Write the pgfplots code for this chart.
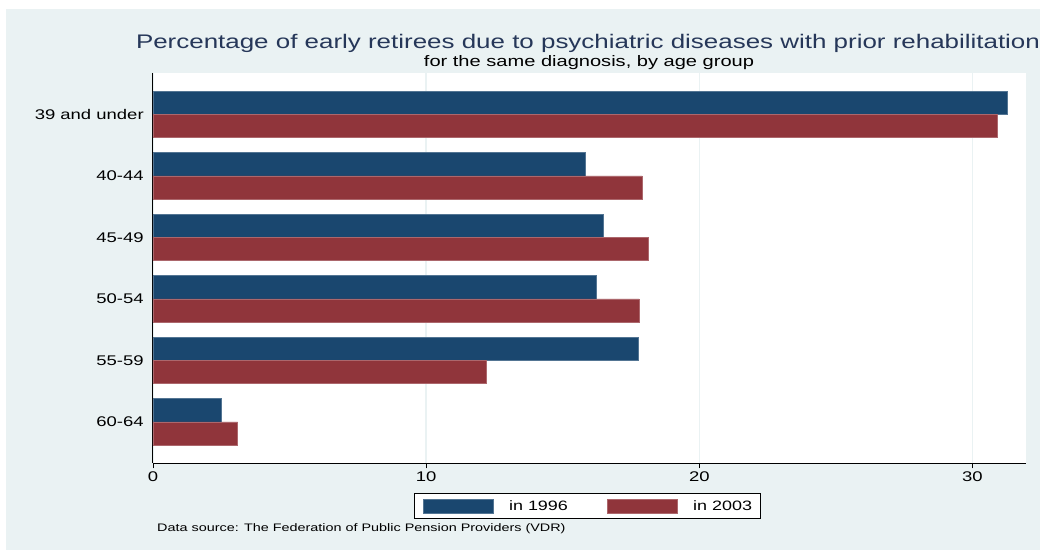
\documentclass[border=0pt]{standalone}
\usepackage{fontspec}
\setmainfont{Liberation Sans}[FakeStretch=1.32]
\usepackage{pgfplots}
\usepackage{pgfplotstable}
\pgfplotsset{compat=1.18}
\definecolor{bgcol}{RGB}{234,242,243}
\definecolor{navy}{RGB}{26,71,111}
\definecolor{maroon}{RGB}{144,53,59}
\definecolor{titlecol}{RGB}{38,55,89}
\pgfplotstableread{
cat a b
0 31.27 30.90
1 15.82 17.91
2 16.48 18.15
3 16.22 17.80
4 17.77 12.21
5 2.50 3.10
}\datatable
\begin{document}
\begin{tikzpicture}[x=1bp,y=1bp]
\fill[white] (0,0) rectangle (1040,550);
\fill[bgcol] (6,0) rectangle (1040,540.5);
\begin{axis}[
  at={(152.9bp,86.7bp)}, anchor=south west,
  scale only axis, width=873.1bp, height=390.3bp,
  xmin=0, xmax=31.96, ymin=-0.673, ymax=5.673,
  y dir=reverse,
  axis background/.style={fill=white},
  axis x line*=bottom, axis y line*=left,
  axis line style={-, black, line width=0.9bp},
  xtick={0,10,20,30},
  xmajorgrids, grid style={bgcol, line width=1.3bp},
  tick align=outside, major tick length=5bp,
  xtick style={black, line width=0.8bp},
  ytick={0,1,2,3,4,5},
  yticklabels={39 and under,40-44,45-49,50-54,55-59,60-64},
  ytick style={draw=none},
  /pgf/number format/assume math mode=true,
  xticklabel style={font=\fontsize{14bp}{16bp}\selectfont, text=black},
  yticklabel style={font=\fontsize{14bp}{16bp}\selectfont, text=black, inner sep=0pt, xshift=-4bp},
  legend columns=2,
  legend style={at={(0.299,-0.0769)}, anchor=north west, draw=black, line width=0.8bp, fill=white,
    inner xsep=8.5bp, inner ysep=5bp, column sep=15.6bp,
    nodes={inner sep=0pt, anchor=west},
    font=\fontsize{13.6bp}{16bp}\selectfont,
    /tikz/every even column/.append style={column sep=39bp}},
  legend image code/.code={\fill[#1] (0bp,-7bp) rectangle (70bp,7bp);},
]
\addplot[xbar, bar width=0.378, bar shift=-0.189, fill=navy, draw=navy!75!white, line width=0.6bp] table[x=a,y=cat]{\datatable};
\addlegendentry{in 1996}
\addplot[xbar, bar width=0.378, bar shift=0.189, fill=maroon, draw=maroon!75!white, line width=0.6bp] table[x=b,y=cat]{\datatable};
\addlegendentry{in 2003}
\end{axis}
\node[anchor=base, text=titlecol, font=\fontsize{19.65bp}{23bp}\selectfont] at (588,501) {Percentage of early retirees due to psychiatric diseases with prior rehabilitation};
\node[anchor=base, text=black, font=\fontsize{15.2bp}{18bp}\selectfont] at (589,483) {for the same diagnosis, by age group};
\node[anchor=base west, inner sep=0pt, text=black, font=\fontsize{10.9bp}{12bp}\selectfont] at (157,18.3) {Data source: The Federation of Public Pension Providers (VDR)};
\pgfresetboundingbox
\useasboundingbox (0,0) rectangle (1040,550);
\end{tikzpicture}
\end{document}
